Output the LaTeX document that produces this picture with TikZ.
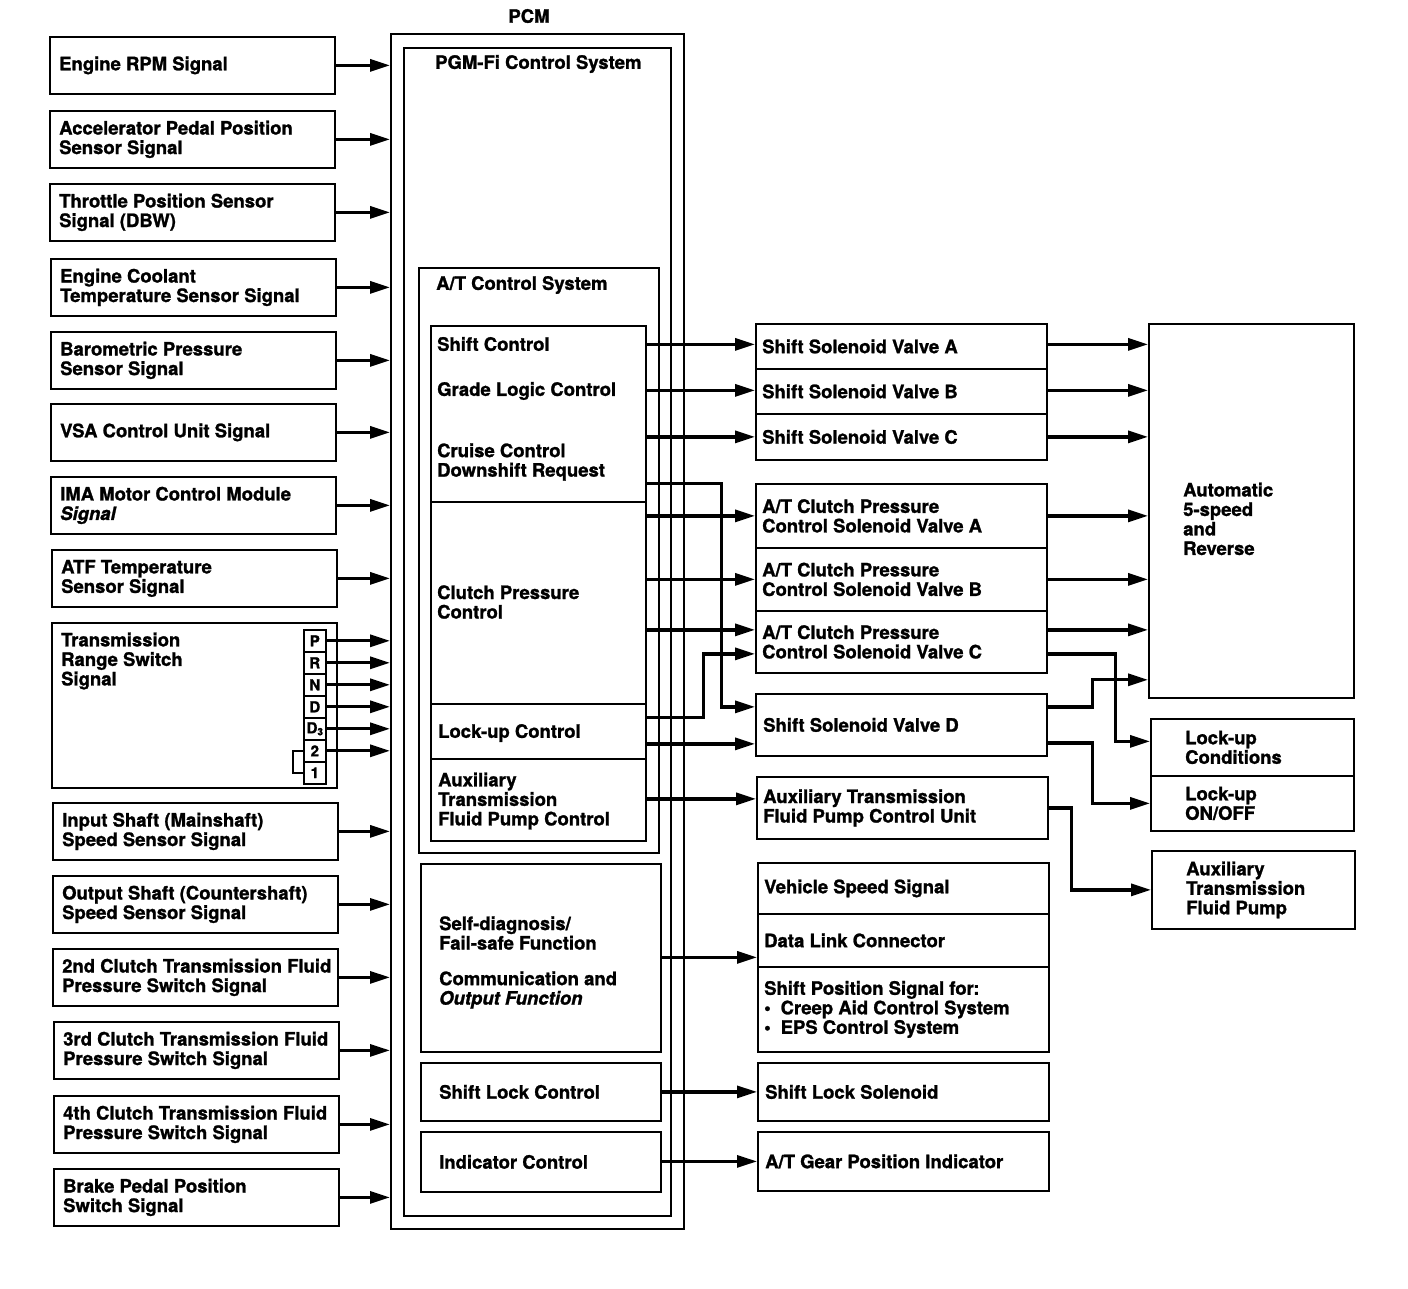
\documentclass[tikz,border=0pt]{standalone}
\usepackage{fontspec}
\setmainfont{TeX Gyre Heros}[BoldFeatures={FakeBold=1.3},BoldItalicFeatures={FakeBold=1.3}]
\usetikzlibrary{arrows.meta,positioning}

\newcommand{\lbl}{\fontsize{18.5}{19.5}\selectfont\bfseries}

\begin{document}
\begin{tikzpicture}[x=1pt,y=-1pt,>={Triangle[length=20pt,width=12pt]}]
\tikzset{
  box/.style={draw,line width=1.8pt,anchor=north west,inner sep=0pt},
  lbox/.style={box,minimum width=285pt,minimum height=57pt},
  rbox/.style={box,minimum width=291pt},
  grp/.style={draw,line width=1.5pt,anchor=north west,inner sep=0pt},
  txt/.style={align=left,font=\lbl,inner sep=0pt},
  sw/.style={draw,line width=1.6pt,anchor=north west,minimum width=22pt,minimum height=22pt,inner sep=0pt,font=\fontsize{15}{15}\selectfont\bfseries},
  arr/.style={->,line width=3.2pt}
}
\useasboundingbox (0,0) rectangle (1408,1288);

% inputs
\node[lbox] (rpm) at (49,36) {};   \node[txt,right=10pt of rpm.west] (rpm-t) {Engine RPM Signal};
\node[lbox] (app) at (49,110) {};  \node[txt,right=10pt of app.west] (app-t) {Accelerator Pedal Position\\Sensor Signal};
\node[lbox] (tps) at (49,183) {};  \node[txt,right=10pt of tps.west] (tps-t) {Throttle Position Sensor\\Signal (DBW)};
\node[lbox] (ect) at (50,258) {};  \node[txt,right=10pt of ect.west] (ect-t) {Engine Coolant\\Temperature Sensor Signal};
\node[lbox] (baro) at (50,331) {}; \node[txt,right=10pt of baro.west] (baro-t) {Barometric Pressure\\Sensor Signal};
\node[lbox] (vsa) at (50,403) {};  \node[txt,right=10pt of vsa.west] (vsa-t) {VSA Control Unit Signal};
\node[lbox] (ima) at (50,476) {};  \node[txt,right=10pt of ima.west] (ima-t) {IMA Motor Control Module\\\textit{Signal}};
\node[lbox] (atf) at (51,549) {};  \node[txt,right=10pt of atf.west] (atf-t) {ATF Temperature\\Sensor Signal};
\node[lbox,minimum height=165pt] (trs) at (51,622) {};
\node[txt,anchor=west] (trs-t) at (61,661) {Transmission\\Range Switch\\Signal};
\node[lbox] (mss) at (52,802) {};  \node[txt,right=10pt of mss.west] (mss-t) {Input Shaft (Mainshaft)\\Speed Sensor Signal};
\node[lbox] (css) at (52,875) {};  \node[txt,right=10pt of css.west] (css-t) {Output Shaft (Countershaft)\\Speed Sensor Signal};
\node[lbox] (cl2) at (52,948) {};  \node[txt,right=10pt of cl2.west] (cl2-t) {2nd Clutch Transmission Fluid\\Pressure Switch Signal};
\node[lbox] (cl3) at (53,1021) {}; \node[txt,right=10pt of cl3.west] (cl3-t) {3rd Clutch Transmission Fluid\\Pressure Switch Signal};
\node[lbox] (cl4) at (53,1095) {}; \node[txt,right=10pt of cl4.west] (cl4-t) {4th Clutch Transmission Fluid\\Pressure Switch Signal};
\node[lbox] (bps) at (53,1168) {}; \node[txt,right=10pt of bps.west] (bps-t) {Brake Pedal Position\\Switch Signal};

% range switch positions
\foreach \n/\t [count=\i from 0] in {P/P,R/R,N/N,D/D,D3/{D\raisebox{-2pt}{\fontsize{10}{10}\selectfont 3}},2/2,1/1}
  \node[sw] (sw\n) at (303,629+22*\i) {\t};

% PCM
\node[font=\lbl] (pcm-t) at (529,16) {PCM};
\node[grp,minimum width=293pt,minimum height=1195pt] (pcm) at (390,33) {};
\node[grp,minimum width=267pt,minimum height=1168pt] (pgm) at (403,47) {};
\node[txt,anchor=west] (pgm-t) at (435,64) {PGM-Fi Control System};
\node[grp,minimum width=240pt,minimum height=585pt] (atcs) at (418,267) {};
\node[txt,anchor=west] (atcs-t) at (436,285) {A/T Control System};
\node[box,minimum width=215pt,minimum height=176pt] (shiftgrp) at (430,325) {};
\node[box,minimum width=215pt,minimum height=202pt] (clutchgrp) at (430,501) {};
\node[box,minimum width=215pt,minimum height=55pt] (lockgrp) at (430,703) {};
\node[box,minimum width=215pt,minimum height=82pt] (auxgrp) at (430,758) {};
\node[txt,anchor=west] (shift-t) at (437,344) {Shift Control};
\node[txt,anchor=west] (grade-t) at (437,391) {Grade Logic Control};
\node[txt,anchor=west] (cruise-t) at (437,462) {Cruise Control\\Downshift Request};
\node[txt,anchor=west] (clutch-t) at (437,602) {Clutch Pressure\\Control};
\node[txt,anchor=west] (lock-t) at (438,733) {Lock-up Control};
\node[txt,anchor=west] (aux-t) at (438,801) {Auxiliary\\Transmission\\Fluid Pump Control};
\node[box,minimum width=240pt,minimum height=188pt] (diag) at (420,863) {};
\node[txt,anchor=west] (diag-t) at (439,933) {Self-diagnosis/\\Fail-safe Function};
\node[txt,anchor=west] (comm-t) at (439,990) {Communication and\\\textit{Output Function}};
\node[box,minimum width=240pt,minimum height=58pt] (slock) at (420,1062) {};
\node[txt,right=19pt of slock.west] (slock-t) {Shift Lock Control};
\node[box,minimum width=240pt,minimum height=60pt] (indic) at (420,1131) {};
\node[txt,right=19pt of indic.west] (indic-t) {Indicator Control};

% outputs
\node[rbox,minimum height=45pt] (ssva) at (755,323) {}; \node[txt,right=7pt of ssva.west] (ssva-t) {Shift Solenoid Valve A};
\node[rbox,minimum height=45pt] (ssvb) at (755,368) {}; \node[txt,right=7pt of ssvb.west] (ssvb-t) {Shift Solenoid Valve B};
\node[rbox,minimum height=46pt] (ssvc) at (755,413) {}; \node[txt,right=7pt of ssvc.west] (ssvc-t) {Shift Solenoid Valve C};
\node[rbox,minimum height=64pt] (cpca) at (755,483) {}; \node[txt,right=7pt of cpca.west] (cpca-t) {A/T Clutch Pressure\\Control Solenoid Valve A};
\node[rbox,minimum height=63pt] (cpcb) at (755,547) {}; \node[txt,right=7pt of cpcb.west] (cpcb-t) {A/T Clutch Pressure\\Control Solenoid Valve B};
\node[rbox,minimum height=62pt] (cpcc) at (755,610) {}; \node[txt,right=7pt of cpcc.west] (cpcc-t) {A/T Clutch Pressure\\Control Solenoid Valve C};
\node[rbox,minimum height=62pt] (ssvd) at (755,693) {}; \node[txt,right=8pt of ssvd.west] (ssvd-t) {Shift Solenoid Valve D};
\node[rbox,minimum height=62pt] (auxu) at (756,776) {}; \node[txt,right=7pt of auxu.west] (auxu-t) {Auxiliary Transmission\\Fluid Pump Control Unit};
\node[rbox,minimum height=51pt] (vss) at (757,862) {};  \node[txt,right=7pt of vss.west] (vss-t) {Vehicle Speed Signal};
\node[rbox,minimum height=53pt] (dlc) at (757,913) {};  \node[txt,right=7pt of dlc.west] (dlc-t) {Data Link Connector};
\node[rbox,minimum height=85pt] (sps) at (757,966) {};  \node[txt,right=7pt of sps.west] (sps-t) {Shift Position Signal for:\\\textbullet\hspace{10pt}Creep Aid Control System\\\textbullet\hspace{10pt}EPS Control System};
\node[rbox,minimum height=58pt] (sls) at (757,1062) {}; \node[txt,right=8pt of sls.west] (sls-t) {Shift Lock Solenoid};
\node[rbox,minimum height=59pt] (gpi) at (757,1131) {}; \node[txt,right=8pt of gpi.west] (gpi-t) {A/T Gear Position Indicator};

\node[box,minimum width=205pt,minimum height=374pt] (auto) at (1148,323) {};
\node[txt,right=35pt of auto.west,yshift=-8pt] (auto-t) {Automatic\\5-speed\\and\\Reverse};
\node[box,minimum width=203pt,minimum height=57pt] (lcond) at (1150,718) {};
\node[txt,right=35pt of lcond.west] (lcond-t) {Lock-up\\Conditions};
\node[box,minimum width=203pt,minimum height=55pt] (lonoff) at (1150,775) {};
\node[txt,right=35pt of lonoff.west] (lonoff-t) {Lock-up\\ON/OFF};
\node[box,minimum width=203pt,minimum height=78pt] (apump) at (1151,850) {};
\node[txt,right=35pt of apump.west] (apump-t) {Auxiliary\\Transmission\\Fluid Pump};

% signals into the PCM
\foreach \s in {rpm,app,tps,ect,baro,vsa,ima,atf,mss,css,cl2,cl3,cl4,bps}
  \draw[arr] (\s.east) -- (\s.east -| pcm.west);
\foreach \n in {P,R,N,D,D3,2}
  \draw[arr] (sw\n.east) -- (sw\n.east -| pcm.west);
\draw[line width=2pt] (sw2.west) -- ++(-10,0) |- (sw1.west);

% PCM to actuators
\draw[arr] ([yshift=2pt]ssva.west -| shiftgrp.east) -- ([yshift=2pt]ssva.west);
\draw[arr] ([yshift=1pt]ssvb.west -| shiftgrp.east) -- ([yshift=1pt]ssvb.west);
\draw[arr] (shiftgrp.east |- ssvc.west) -- (ssvc.west);
\draw[arr] ([yshift=19pt]shiftgrp.south east) -- ++(75,0) |- ([yshift=18pt]ssvd.west);
\draw[arr] (clutchgrp.east |- cpca.west) -- (cpca.west);
\draw[arr] (clutchgrp.east |- cpcb.west) -- (cpcb.west);
\draw[arr] ([yshift=12pt]cpcc.west -| clutchgrp.east) -- ([yshift=12pt]cpcc.west);
\draw[arr] ([yshift=14pt]lockgrp.east) -- ++(57,0) |- ([yshift=-12pt]cpcc.west);
\draw[arr] ([yshift=-19pt]ssvd.west -| lockgrp.east) -- ([yshift=-19pt]ssvd.west);
\draw[arr] ([yshift=9pt]auxu.west -| auxgrp.east) -- ([yshift=9pt]auxu.west);
\draw[arr] ([yshift=-17pt]dlc.west -| diag.east) -- ([yshift=-17pt]dlc.west);
\draw[arr] (sls.west -| slock.east) -- (sls.west);
\draw[arr] (gpi.west -| indic.east) -- (gpi.west);

% actuators to transmission
\draw[arr] ([yshift=2pt]ssva.east) -- ([yshift=2pt]ssva.east -| auto.west);
\draw[arr] ([yshift=1pt]ssvb.east) -- ([yshift=1pt]ssvb.east -| auto.west);
\foreach \v in {ssvc,cpca,cpcb}
  \draw[arr] (\v.east) -- (\v.east -| auto.west);
\draw[arr] ([yshift=12pt]cpcc.east) -- ([yshift=12pt]cpcc.east -| auto.west);
\draw[arr] ([yshift=-12pt]cpcc.east) -- ++(68,0) |- ([yshift=6pt]lcond.west);
\draw[arr] ([yshift=18pt]ssvd.east) -- ++(45,0) |- ([yshift=19pt]auto.south west);
\draw[arr] ([yshift=-18pt]ssvd.east) -- ++(45,0) |- (lonoff.west);
\draw[arr] (auxu.east) -- ++(23,0) |- (apump.west);
\end{tikzpicture}
\end{document}
